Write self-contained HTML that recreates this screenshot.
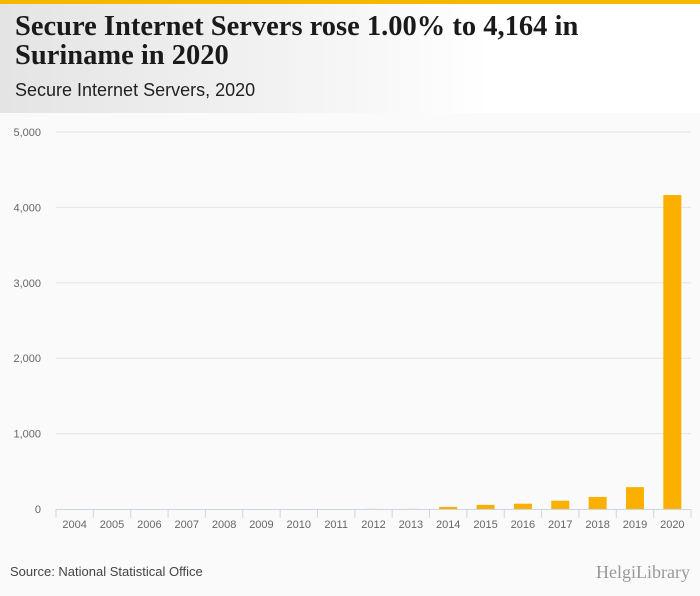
<!DOCTYPE html>
<html><head><meta charset="utf-8"><style>
body{margin:0;width:700px;height:596px;background:#fafafa;font-family:"Liberation Sans",sans-serif;position:relative;overflow:hidden}
.top{position:absolute;left:0;top:0;width:700px;height:4px;background:#f5b800}
.hdr{position:absolute;left:0;top:4px;width:700px;height:109px;background:linear-gradient(90deg,#e4e4e4,#f4f4f4 45%,#fff 70%)}
h1{position:absolute;left:15px;top:12px;margin:0;font-family:"Liberation Serif",serif;font-weight:bold;font-size:28.5px;line-height:29px;color:#1a1a1a;width:660px}
.sub{position:absolute;left:15px;top:80px;font-size:18px;color:#222}
.src{position:absolute;left:10px;top:564px;font-size:13px;color:#444}
.logo{position:absolute;right:10px;top:562px;font-size:18px;color:#999;font-family:"Liberation Serif",serif}
</style></head><body>
<div class="top"></div>
<div class="hdr"></div>
<h1>Secure Internet Servers rose 1.00% to 4,164 in<br>Suriname in 2020</h1>
<div class="sub">Secure Internet Servers, 2020</div>
<svg id="c" width="700" height="596" style="position:absolute;left:0;top:0"></svg>
<div class="src">Source: National Statistical Office</div>
<div class="logo">HelgiLibrary</div>
<script>
const categories=["2004","2005","2006","2007","2008","2009","2010","2011","2012","2013","2014","2015","2016","2017","2018","2019","2020"];
const values=[0,0,0,0,0,0,0,0,1,1,28,55,70,110,160,290,4164];
const yTicks=[0,1000,2000,3000,4000,5000];
const yLabels=["0","1,000","2,000","3,000","4,000","5,000"];
const svg=document.getElementById('c');
const NS='http://www.w3.org/2000/svg';
const x0=56,x1=691,yb=509,yt=132,vmax=5000;
const bw=(x1-x0)/categories.length;
const y=v=>yb-(v/vmax)*(yb-yt);
const xc=i=>x0+bw*(i+0.5);
function mk(t,a){const e=document.createElementNS(NS,t);for(const k in a)e.setAttribute(k,a[k]);svg.appendChild(e);return e;}
yTicks.forEach((t,i)=>{
 if(t>0){const g=mk('line',{x1:x0,x2:x1,y1:y(t),y2:y(t),stroke:'#e4e4e4','stroke-width':1});
 
 }
 const l=mk('text',{x:41,y:y(t)+4,'text-anchor':'end','font-size':11,fill:'#666','font-family':'Liberation Sans'});
 l.textContent=yLabels[i];
 
 
});
const ax=mk('line',{x1:x0,x2:x1,y1:yb+0.5,y2:yb+0.5,stroke:'#cdd6e6','stroke-width':1});


for(let i=0;i<=categories.length;i++){
 const tk=mk('line',{x1:x0+bw*i,x2:x0+bw*i,y1:yb,y2:yb+9,stroke:'#cdd6e6','stroke-width':1});
 
 
}
categories.forEach((c,i)=>{
 const h=Math.max(0,yb-y(values[i]));
 const r=mk('rect',{x:xc(i)-9,y:yb-h,width:18,height:h,fill:'#fbb000'});
 
 
 const t=mk('text',{x:xc(i),y:528,'text-anchor':'middle','font-size':11,fill:'#666','font-family':'Liberation Sans'});
 t.textContent=c;
 
 
});
</script>
</body></html>
